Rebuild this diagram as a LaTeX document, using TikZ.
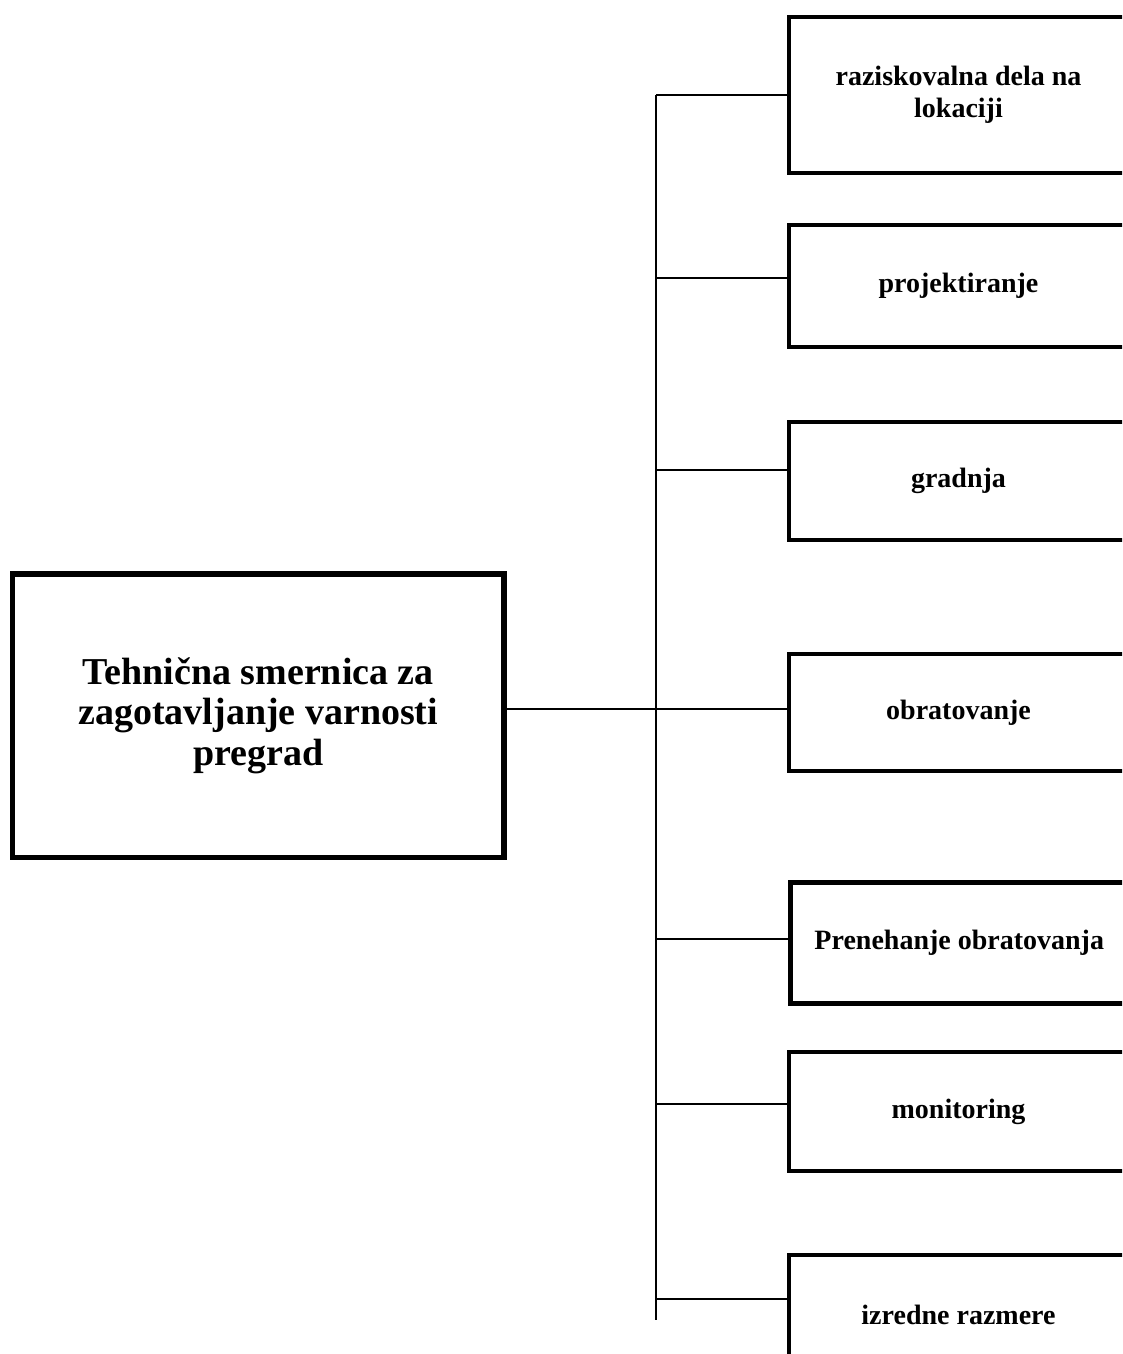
\documentclass[tikz,border=0pt]{standalone}
\usepackage{fontspec}
\setmainfont{Liberation Serif}
\begin{document}
\begin{tikzpicture}[x=0.75pt,y=-0.75pt,
  box/.style={draw, line width=3.4pt, rectangle, inner sep=0pt, align=center,
    font=\fontsize{21}{24}\selectfont\bfseries, minimum width=254.25pt},
  mainbox/.style={draw, line width=3.8pt, rectangle, inner sep=0pt, align=center,
    font=\fontsize{28.5}{30.5}\selectfont\bfseries, minimum width=368.6pt, minimum height=212.6pt},
  link/.style={line width=1.5pt}]
\useasboundingbox (0,0) rectangle (1122,1354);
\clip (0,0) rectangle (1122,1354);

\node[mainbox] (main) at (258.25,715.75) {Tehnična smernica za\\zagotavljanje varnosti\\pregrad};

\node[box, minimum height=117pt]   (b1) at (958.5,95)    {raziskovalna dela na\\lokaciji};
\node[box, minimum height=91.5pt]  (b2) at (958.5,286)   {projektiranje};
\node[box, minimum height=88.5pt]  (b3) at (958.5,481)   {gradnja};
\node[box, minimum height=87.75pt] (b4) at (958.5,712.5) {obratovanje};
\node[box, minimum height=91.1pt, minimum width=253pt] (b5) at (959.25,943) {Prenehanje obratovanja};
\node[box, minimum height=89.25pt] (b6) at (958.5,1111.5) {monitoring};
\node[box, minimum height=90pt]    (b7) at (958.5,1315)  {izredne razmere};

\coordinate (s1) at (656,95);
\coordinate (s2) at (656,278);
\coordinate (s3) at (656,470);
\coordinate (s4) at (656,709);
\coordinate (s5) at (656,939);
\coordinate (s6) at (656,1104);
\coordinate (s7) at (656,1299);
\coordinate (sbot) at (656,1320);

\draw[link] (s1) -- (sbot);
\draw[link] (s1) -- (s1 -| b1.west);
\draw[link] (s2) -- (s2 -| b2.west);
\draw[link] (s3) -- (s3 -| b3.west);
\draw[link] (s4) -- (s4 -| b4.west);
\draw[link] (s5) -- (s5 -| b5.west);
\draw[link] (s6) -- (s6 -| b6.west);
\draw[link] (s7) -- (s7 -| b7.west);
\draw[link] (main.east |- s4) -- (s4);
\end{tikzpicture}
\end{document}
